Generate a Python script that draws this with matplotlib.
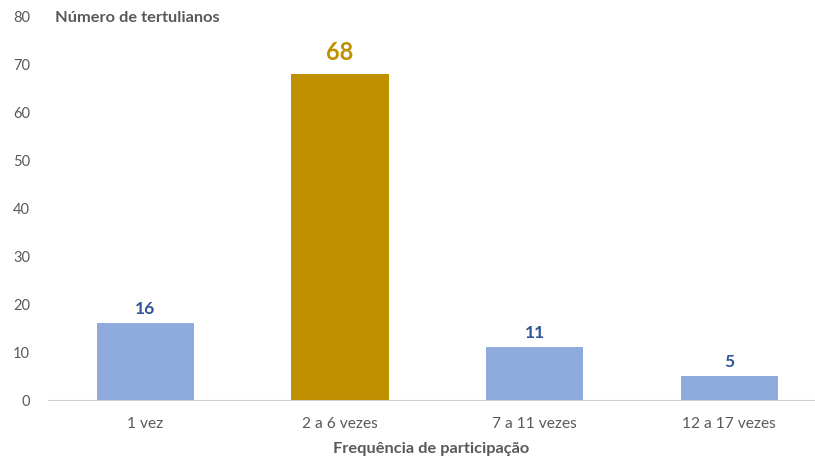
import matplotlib
matplotlib.use("Agg")
import matplotlib.pyplot as plt

# participation frequency vs number of attendees
categories = ["1 vez", "2 a 6 vezes", "7 a 11 vezes", "12 a 17 vezes"]
counts = [16, 68, 11, 5]
highlight = 1  # bar drawn in gold

plt.rcParams["font.family"] = ["Lato", "DejaVu Sans"]

blue = "#8FAADC"
gold = "#BF9000"
grey = "#595959"

fig = plt.figure(figsize=(8.15, 4.59), dpi=100)
ax = fig.add_axes([48 / 815, 59 / 459, 1 - 48 / 815, 383 / 459])

colors = [gold if i == highlight else blue for i in range(len(counts))]
bars = ax.bar(range(len(counts)), counts, width=0.5, color=colors)

for i, (b, v) in enumerate(zip(bars, counts)):
    if i == highlight:
        ax.text(b.get_x() + b.get_width() / 2, v + 2.2, str(v), ha="center", va="bottom",
                fontsize=17, fontweight="bold", color=gold)
    else:
        ax.text(b.get_x() + b.get_width() / 2, v + 1.3, str(v), ha="center", va="bottom",
                fontsize=12.5, fontweight="bold", color="#2F5597")

ax.set_xlim(-0.5, 3.44)
ax.set_ylim(0, 80)
ax.set_yticks(range(0, 81, 10))
ax.set_xticks(range(len(categories)))
ax.set_xticklabels(categories)
ax.tick_params(axis="both", length=0, labelsize=10.5, colors=grey)
ax.tick_params(axis="y", pad=13)
ax.tick_params(axis="x", pad=12, labelsize=11.2)

for s in ["top", "right", "left"]:
    ax.spines[s].set_visible(False)
ax.spines["bottom"].set_color("#D0D0D0")

ax.set_xlabel("Frequência de participação", fontsize=11.8, fontweight="bold", color=grey, labelpad=8)
fig.text(55 / 815, 1 - 18 / 459, "Número de tertulianos", fontsize=11.8, fontweight="bold",
         color=grey, va="center", ha="left")

fig.savefig("out.png", dpi=100)
